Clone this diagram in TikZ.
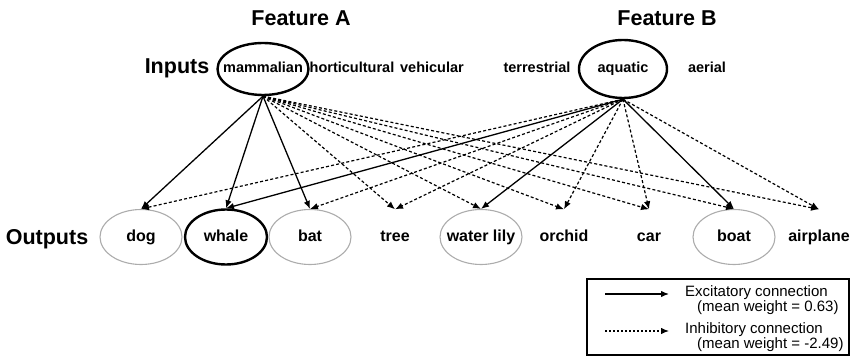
\documentclass[tikz,border=0pt]{standalone}
\usepackage{fontspec}
\setmainfont{Liberation Sans}
\usetikzlibrary{arrows.meta,shapes.geometric}

\begin{document}
\begin{tikzpicture}[x=1pt,y=-1pt,
   head/.style={font=\fontsize{21.5}{24}\selectfont\bfseries,inner sep=0pt},
   inword/.style={font=\fontsize{14.5}{16}\selectfont\bfseries,inner sep=0pt,text height=10.5pt,text depth=3pt},
   feat/.style={ellipse,draw,line width=2.4pt,inner xsep=-8pt},
   outword/.style={ellipse,minimum width=82pt,minimum height=55pt,inner ysep=0pt,inner xsep=-7pt,
      font=\fontsize{16}{18}\selectfont\bfseries,text height=12pt,text depth=3.5pt},
   ring/.style={draw=gray!65,line width=1.1pt},
   thickring/.style={draw=black,line width=2.4pt},
   noring/.style={},
   exc/.style={line width=1.3pt,-{Latex[length=8pt,width=6.5pt]}},
   inh/.style={line width=1.2pt,dash pattern=on 3pt off 2.2pt,-{Latex[length=8pt,width=6.5pt]}},
   dots/.style={line width=1.2pt,dash pattern=on 1.6pt off 2.4pt,-{Latex[length=8pt,width=6.5pt]}},
   legtext/.style={font=\fontsize{15}{15.5}\selectfont,align=left,anchor=west,inner sep=0pt}]
\useasboundingbox (0,0) rectangle (859,358);
\node[head] (featA) at (301,18) {Feature A};
\node[head] (featB) at (667,18) {Feature B};
\node[head] (inputs) at (177,68) {Inputs};
\node[head] (outputs) at (47,239) {Outputs};
\node[inword,feat,minimum width=91pt,minimum height=52pt] (mam) at (263,69) {mammalian};
\node[inword,feat,minimum width=88pt,minimum height=58pt] (aqu) at (623,69) {aquatic};
\foreach \n/\x/\t in %
{hort/352/horticultural,veh/432/vehicular,terr/537/terrestrial,aer/707/aerial} {
   \node[inword] (\n) at (\x,69) {\t};
}
\foreach \n/\x/\t/\s in %
{dog/141/dog/ring,whale/226/whale/thickring,bat/310/bat/ring,tree/395/tree/noring,
 lily/481/water lily/ring,orchid/564/orchid/noring,car/649/car/noring,
 boat/734/boat/ring,plane/819/airplane/noring} {
   \node[outword,\s] (\n) at (\x,237) {\t};
}
\foreach \o in {dog,whale,bat} {
   \draw[exc] (mam.south) -- (\o.north);
}
\foreach \o in {tree,lily,orchid,car,boat,plane} {
   \draw[inh] (mam.south) -- (\o.north);
}
\foreach \o in {whale,lily,boat} {
   \draw[exc] (aqu.south) -- (\o.north);
}
\foreach \o in {dog,bat,tree,orchid,car,plane} {
   \draw[inh] (aqu.south) -- (\o.north);
}
\draw[line width=1.4pt] (587,279) rectangle (849,355);
\coordinate (e0) at (605,294);
\coordinate (e1) at (669,294);
\coordinate (i0) at (605,331);
\coordinate (i1) at (669,331);
\draw[exc] (e0) -- (e1);
\draw[dots] (i0) -- (i1);
\node[legtext] (exctext) at (685,300) {Excitatory connection\\\hspace{12pt}(mean weight = 0.63)};
\node[legtext] (inhtext) at (685,337) {Inhibitory connection\\\hspace{12pt}(mean weight = -2.49)};
\end{tikzpicture}
\end{document}
